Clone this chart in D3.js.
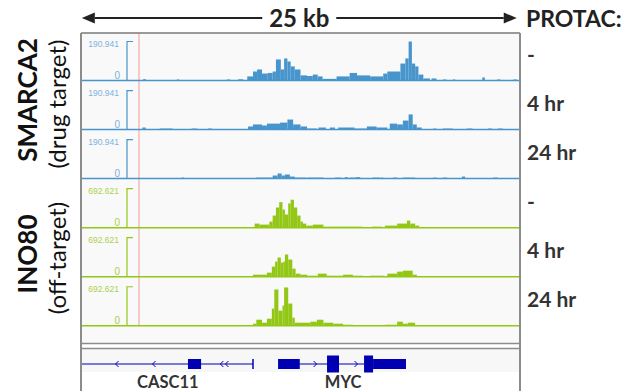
<!DOCTYPE html>
<html>
<head>
<meta charset="utf-8">
<script src="https://cdn.jsdelivr.net/npm/d3@7"></script>
<style>
  body { margin: 0; background: #fff; }
  svg { display: block; font-family: Lato, "Open Sans", sans-serif; }
</style>
</head>
<body>
<svg id="chart" width="641" height="391"></svg>
<script>
// locus, positions in kb from the left edge of the view
const regionKb = [0, 26.8];
const scaleBar = { from: 0.05, to: 26.6, label: "25 kb" };
const markerKb = 3.54;

const conditions = ["-", "4 hr", "24 hr", "-", "4 hr", "24 hr"];
const smarca2Max = 190.941;
const ino80Max = 692.621;

// [start kb, end kb, signal]
const smarca2Ctrl = [
  [3.8,3.95,7],[5.85,6.0,5],[8.9,9.1,5],[9.6,9.9,6],
  [10.15,10.5,20],[10.5,10.75,44],[10.75,11.05,54],[11.05,11.4,34],[11.4,11.7,37],[11.7,11.9,44],
  [11.9,12.2,103],[12.2,12.4,54],[12.4,12.6,108],[12.6,12.8,93],[12.8,13.05,69],[13.05,13.4,54],
  [13.4,13.8,25],[13.8,14.15,22],[14.15,14.45,29],[14.45,14.75,20],[14.75,15.6,8],[15.6,16.4,20],
  [16.4,16.85,37],[16.85,17.65,25],[17.65,18.45,20],[18.45,18.7,34],[18.7,19.5,44],[19.5,19.8,83],
  [19.8,20.0,108],[20.0,20.2,190.9],[20.2,20.4,83],[20.4,20.6,69],[20.6,20.9,29],[20.9,21.3,10],
  [21.4,21.7,10],[22.1,22.3,5],[22.7,22.85,5],[24.5,24.65,15],[25.4,25.6,5],[26.4,26.6,5]
];
const smarca2_4h = [
  [3.75,3.95,10],[4.8,5.6,5],[6.75,7.1,5],[7.75,8.0,5],
  [10.2,10.5,15],[10.5,11.05,25],[11.05,11.35,20],[11.35,12.15,29],[12.15,12.6,34],[12.6,12.95,49],
  [12.95,13.4,25],[13.4,13.8,15],[13.8,14.4,5],[14.5,14.95,10],[15.2,15.5,10],[15.7,16.7,10],
  [16.7,17.45,5],[17.45,18.05,15],[18.05,18.7,10],[18.85,19.3,29],[19.3,19.65,25],[19.65,20.0,44],
  [20.0,20.25,74],[20.25,20.5,25],[20.5,20.8,10],[21.5,21.7,5],[22.1,22.7,5],[23.55,23.9,5],
  [24.85,25.1,5],[25.45,25.75,5]
];
const smarca2_24h = [
  [6.15,6.3,5],[10.7,11.7,5],[11.7,12.0,15],[12.0,12.25,25],[12.25,12.45,15],[12.45,12.75,20],
  [12.75,13.05,10],[13.05,13.75,5],[13.8,14.8,5],[15.5,15.9,5],[16.1,16.3,7],[16.4,16.7,5],
  [16.75,17.05,7],[17.8,18.25,5],[18.3,18.45,5],[19.05,19.3,5],[19.65,20.4,5],[21.5,21.7,5],
  [22.1,22.35,5],[23.25,23.45,10],[25.15,25.45,5]
];
const ino80Ctrl = [
  [10.6,10.9,72],[10.9,11.5,54],[11.5,11.7,107],[11.7,11.9,215],[11.9,12.1,358],[12.1,12.3,453],
  [12.3,12.45,322],[12.45,12.65,233],[12.65,12.8,430],[12.8,13.0,496],[13.0,13.2,358],[13.2,13.4,215],
  [13.4,13.55,107],[13.55,13.75,72],[13.75,14.15,36],[14.15,14.8,54],[14.8,16.25,18],[16.25,17.2,18],
  [17.75,18.4,18],[18.55,19.3,36],[19.3,19.9,72],[19.9,20.1,125],[20.1,20.4,72],[20.4,20.65,36]
];
const ino80_4h = [
  [10.5,11.35,36],[11.35,11.65,72],[11.65,11.85,179],[11.85,12.0,268],[12.0,12.2,340],[12.2,12.35,250],
  [12.35,12.45,268],[12.45,12.65,394],[12.65,12.9,304],[12.9,13.1,143],[13.1,13.4,54],[13.4,13.8,36],
  [13.8,14.4,18],[14.45,15.0,54],[15.0,16.0,18],[16.0,16.6,36],[16.6,17.2,18],[17.65,18.5,18],
  [18.7,19.3,54],[19.3,19.65,90],[19.65,20.25,107],[20.25,20.5,36]
];
const ino80_24h = [
  [10.5,10.7,36],[10.7,11.05,107],[11.05,11.35,54],[11.35,11.65,125],[11.65,11.8,304],[11.8,12.05,644],
  [12.05,12.3,268],[12.3,12.4,358],[12.4,12.65,680],[12.65,12.9,394],[12.9,13.05,143],[13.05,14.0,54],
  [14.0,14.4,72],[14.4,14.8,107],[14.8,15.4,54],[15.4,16.0,36],[16.0,16.6,18],[18.55,19.3,18],
  [19.3,19.65,72],[19.65,19.95,36],[19.95,20.4,54]
];

const tracks = [
  { data: smarca2Ctrl, max: smarca2Max, color: "#4795cc", label: "#7fb1dc" },
  { data: smarca2_4h,  max: smarca2Max, color: "#4795cc", label: "#7fb1dc" },
  { data: smarca2_24h, max: smarca2Max, color: "#4795cc", label: "#7fb1dc" },
  { data: ino80Ctrl,   max: ino80Max,   color: "#93c716", label: "#a9d14a" },
  { data: ino80_4h,    max: ino80Max,   color: "#93c716", label: "#a9d14a" },
  { data: ino80_24h,   max: ino80Max,   color: "#93c716", label: "#a9d14a" }
];

// genes: line extent, exons (thin = UTR, thick = CDS), strand chevrons
const genes = [
  { name: "CASC11", line: [0, 10.5], utr: [[6.53, 7.33]], cds: [], ticks: [10.5],
    strand: -1, chevrons: [2.2, 4.46, 8.6, 8.91], labelAt: 5.3 },
  { name: "MYC", line: [13.31, 17.28], utr: [[12.03, 13.31], [17.83, 19.84]],
    cds: [[15.02, 15.75], [17.28, 17.83]], ticks: [13.31],
    strand: 1, chevrons: [14.29, 16.79], labelAt: 16.0 }
];

const svg = d3.select("#chart");
const frameL = 81, frameR = 520, frameT = 33;
const x = d3.scaleLinear().domain(regionKb).range([frameL, frameR]);

const trackStep = 49.05, trackH = 49, dataH = 39;
const baseline = i => 31.5 + trackStep * i + trackH;

// backgrounds
svg.append("rect").attr("x", frameL).attr("y", frameT)
  .attr("width", frameR - frameL).attr("height", 343 - frameT).attr("fill", "#f9f9f9");
svg.append("rect").attr("x", frameL).attr("y", 349)
  .attr("width", frameR - frameL).attr("height", 23).attr("fill", "#f7f7f7");

// marker line
svg.append("line")
  .attr("x1", x(markerKb)).attr("x2", x(markerKb))
  .attr("y1", frameT).attr("y2", baseline(5))
  .attr("stroke", "#f6b9b9").attr("stroke-width", 1.5);

tracks.forEach((t, i) => {
  const b = baseline(i);
  const y = d3.scaleLinear().domain([0, t.max]).range([b, b - dataH]);
  const g = svg.append("g");

  g.selectAll("rect")
    .data(t.data)
    .enter()
    .append("rect")
    .attr("x", d => x(d[0]))
    .attr("width", d => x(d[1]) - x(d[0]))
    .attr("y", d => y(d[2]))
    .attr("height", d => b - y(d[2]))
    .attr("fill", t.color);

  g.append("line")
    .attr("x1", frameL).attr("x2", frameR)
    .attr("y1", b).attr("y2", b)
    .attr("stroke", t.color).attr("stroke-width", 1.5);

  // data range bracket
  g.append("path")
    .attr("d", `M${frameL + 46},${b} V${y(t.max)} H${frameL + 46 + 6}`)
    .attr("fill", "none").attr("stroke", t.color).attr("stroke-width", 1.2);
  g.append("text")
    .attr("x", frameL + 38).attr("y", y(t.max) + 5)
    .attr("text-anchor", "end")
    .style("font-family", "'Liberation Sans', Arial, sans-serif")
    .style("font-size", "8.5px").attr("fill", t.label)
    .text(t.max);
  g.append("text")
    .attr("x", frameL + 39).attr("y", b - 1.5)
    .attr("text-anchor", "end")
    .style("font-family", "'Liberation Sans', Arial, sans-serif")
    .style("font-size", "10px").attr("fill", t.label)
    .text("0");

  // condition label
  svg.append("text")
    .attr("x", 527).attr("y", b - 19)
    .style("font-size", "21px").style("font-weight", 700)
    .attr("fill", "#333")
    .text(conditions[i]);
});

// separator between data tracks and gene track
[343.5, 348.5].forEach(yy => {
  svg.append("line").attr("x1", frameL).attr("x2", frameR)
    .attr("y1", yy).attr("y2", yy)
    .attr("stroke", "#8c8c8c").attr("stroke-width", 1.5);
});

// gene track
const geneY = 364, utrH = 10, cdsH = 17, geneColor = "#0000b2";
const gg = svg.append("g");
genes.forEach(gene => {
  gg.append("line")
    .attr("x1", x(gene.line[0])).attr("x2", x(gene.line[1]))
    .attr("y1", geneY).attr("y2", geneY)
    .attr("stroke", geneColor).attr("stroke-width", 1.2);
  gene.ticks.forEach(k => {
    gg.append("line")
      .attr("x1", x(k)).attr("x2", x(k))
      .attr("y1", geneY - 5).attr("y2", geneY + 5)
      .attr("stroke", geneColor).attr("stroke-width", 1.5);
  });
  gene.chevrons.forEach(k => {
    const cx = x(k), s = gene.strand;
    gg.append("path")
      .attr("d", `M${cx - 1.5 * s},${geneY - 3} L${cx + 1.5 * s},${geneY} L${cx - 1.5 * s},${geneY + 3}`)
      .attr("fill", "none").attr("stroke", geneColor).attr("stroke-width", 1);
  });
  gg.selectAll(null).data(gene.utr).enter().append("rect")
    .attr("x", d => x(d[0])).attr("width", d => x(d[1]) - x(d[0]))
    .attr("y", geneY - utrH / 2).attr("height", utrH)
    .attr("fill", geneColor);
  gg.selectAll(null).data(gene.cds).enter().append("rect")
    .attr("x", d => x(d[0])).attr("width", d => x(d[1]) - x(d[0]))
    .attr("y", geneY - cdsH / 2).attr("height", cdsH)
    .attr("fill", geneColor);
  gg.append("text")
    .attr("x", x(gene.labelAt)).attr("y", 388)
    .attr("text-anchor", "middle")
    .style("font-size", "16.5px").style("font-weight", 700)
    .attr("fill", "#333")
    .text(gene.name);
});

// frame
svg.append("line").attr("x1", frameL).attr("x2", frameR).attr("y1", frameT).attr("y2", frameT)
  .attr("stroke", "#7a7a7a").attr("stroke-width", 1.5);
[frameL, frameR].forEach(xx => {
  svg.append("line").attr("x1", xx).attr("x2", xx).attr("y1", frameT).attr("y2", 391)
    .attr("stroke", "#8c8c8c").attr("stroke-width", 2);
});

// header: scale bar arrow
const arrowY = 18, ah = 13, aw = 5.5;
const ax0 = x(scaleBar.from), ax1 = x(scaleBar.to);
const mid = (ax0 + ax1) / 2;
svg.append("line").attr("x1", ax0 + ah).attr("x2", mid - 37)
  .attr("y1", arrowY).attr("y2", arrowY).attr("stroke", "#222").attr("stroke-width", 2);
svg.append("line").attr("x1", mid + 37).attr("x2", ax1 - ah)
  .attr("y1", arrowY).attr("y2", arrowY).attr("stroke", "#222").attr("stroke-width", 2);
svg.append("path").attr("d", `M${ax0},${arrowY} L${ax0 + ah},${arrowY - aw} L${ax0 + ah},${arrowY + aw} Z`)
  .attr("fill", "#222");
svg.append("path").attr("d", `M${ax1},${arrowY} L${ax1 - ah},${arrowY - aw} L${ax1 - ah},${arrowY + aw} Z`)
  .attr("fill", "#222");
svg.append("text").attr("x", mid).attr("y", arrowY + 8.5)
  .attr("text-anchor", "middle")
  .style("font-size", "24px").style("font-weight", 700).attr("fill", "#222")
  .text(scaleBar.label);
svg.append("text").attr("x", 526).attr("y", arrowY + 8.5)
  .style("font-size", "23px").style("font-weight", 700).attr("fill", "#222")
  .text("PROTAC:");

// left side labels
const sideLabels = [
  { bold: "SMARCA2", sub: "(drug target)", cy: 100 },
  { bold: "INO80", sub: "(off-target)", cy: 254 }
];
sideLabels.forEach(s => {
  svg.append("text")
    .attr("transform", `translate(37,${s.cy}) rotate(-90)`)
    .attr("text-anchor", "middle")
    .style("font-size", "26px").style("font-weight", 700).attr("fill", "#111")
    .text(s.bold);
  svg.append("text")
    .attr("transform", `translate(66,${s.cy + 4}) rotate(-90)`)
    .attr("text-anchor", "middle")
    .style("font-size", "24px").attr("fill", "#111")
    .text(s.sub);
});
</script>
</body>
</html>
